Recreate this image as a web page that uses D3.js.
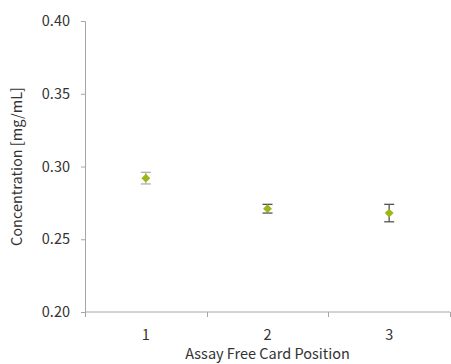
<!DOCTYPE html>
<html>
<head>
<meta charset="utf-8">
<script src="https://cdn.jsdelivr.net/npm/d3@7"></script>
<style>
  html, body { margin: 0; padding: 0; background: #fff; }
  svg { display: block; }
  text { font-family: "Noto Sans CJK KR", "Noto Sans", sans-serif; fill: #333; }
</style>
</head>
<body>
<svg id="chart" width="451" height="364"></svg>
<script>
// Card positions and measured concentration (mean ± error) in mg/mL
const positions = ["1", "2", "3"];
const concentration = [0.292, 0.271, 0.268];
const errorLow = [0.004, 0.003, 0.006];
const errorHigh = [0.004, 0.003, 0.006];
const errorColors = ["#b0b0b0", "#555555", "#555555"];
const yTicks = [0.20, 0.25, 0.30, 0.35, 0.40];

const svg = d3.select("#chart");
const margin = { left: 85, right: 1, top: 21, bottom: 52 };
const W = 451, H = 364;
const fs = 14.5;

const x = d3.scaleBand().domain(positions).range([margin.left, W - margin.right]);
const y = d3.scaleLinear().domain([0.20, 0.40]).range([H - margin.bottom, margin.top]);

// y axis
const yAxis = svg.append("g")
  .attr("transform", `translate(${margin.left},0)`)
  .call(d3.axisLeft(y).tickValues(yTicks).tickFormat(d3.format(".2f")).tickSizeOuter(0).tickSize(4).tickPadding(11));
yAxis.select(".domain").attr("stroke", "#a6a6a6");
yAxis.selectAll(".tick line").attr("stroke", "#a6a6a6");
yAxis.selectAll(".tick text").attr("font-size", fs).attr("fill", "#333")
  .attr("font-family", "'Noto Sans CJK KR', 'Noto Sans', sans-serif");

// x axis with ticks on the category boundaries
const xAxisG = svg.append("g").attr("transform", `translate(0,${y(0.20)})`);
xAxisG.append("line")
  .attr("x1", margin.left).attr("x2", W - margin.right)
  .attr("stroke", "#a6a6a6");
const bounds = positions.map(p => x(p)).concat([x(positions[positions.length - 1]) + x.bandwidth()]);
xAxisG.selectAll("line.b").data(bounds).enter().append("line")
  .attr("class", "b")
  .attr("x1", d => Math.round(d) + 0.5).attr("x2", d => Math.round(d) + 0.5)
  .attr("y1", 0).attr("y2", 5)
  .attr("stroke", "#a6a6a6");
xAxisG.selectAll("text").data(positions).enter().append("text")
  .attr("x", d => x(d) + x.bandwidth() / 2)
  .attr("y", 28)
  .attr("text-anchor", "middle")
  .attr("font-size", fs)
  .text(d => d);

// axis titles
svg.append("text")
  .attr("x", x(positions[0]) + (W - margin.right - x(positions[0])) / 2)
  .attr("y", 359)
  .attr("text-anchor", "middle")
  .attr("font-size", fs)
  .text("Assay Free Card Position");
svg.append("text")
  .attr("transform", `translate(22,${(y(0.20) + y(0.40)) / 2}) rotate(-90)`)
  .attr("text-anchor", "middle")
  .attr("font-size", fs)
  .text("Concentration [mg/mL]");

// error bars
const cx = i => x(positions[i]) + x.bandwidth() / 2;
const eb = svg.append("g");
positions.forEach((p, i) => {
  const top = y(concentration[i] + errorHigh[i]);
  const bot = y(concentration[i] - errorLow[i]);
  const g = eb.append("g").attr("stroke", errorColors[i]).attr("stroke-width", 1.3);
  g.append("line").attr("x1", cx(i)).attr("x2", cx(i)).attr("y1", top).attr("y2", bot);
  g.append("line").attr("x1", cx(i) - 5).attr("x2", cx(i) + 5).attr("y1", top).attr("y2", top);
  g.append("line").attr("x1", cx(i) - 5).attr("x2", cx(i) + 5).attr("y1", bot).attr("y2", bot);
});

// diamond markers
svg.append("g").selectAll("path").data(concentration).enter().append("path")
  .attr("d", d3.symbol().type(d3.symbolDiamond2).size(50))
  .attr("transform", (d, i) => `translate(${cx(i)},${y(d)})`)
  .attr("fill", "#9fb31a");
</script>
</body>
</html>
